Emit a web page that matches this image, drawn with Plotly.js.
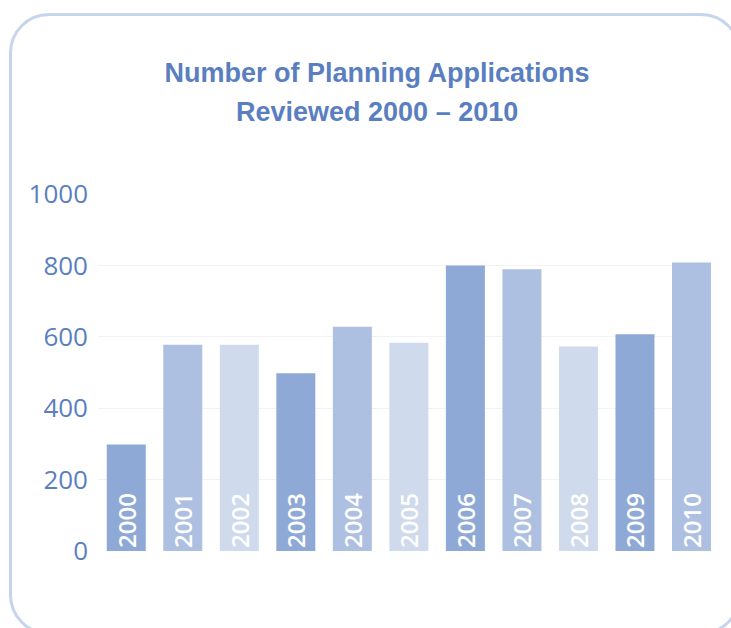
<!DOCTYPE html>
<html>
<head>
<meta charset="utf-8">
<script src="https://cdn.plot.ly/plotly-3.0.1.min.js"></script>
<style>
  html, body { margin: 0; padding: 0; background: #ffffff; }
  #wrap { position: relative; width: 731px; height: 628px; overflow: hidden; }
  #frame { position: absolute; left: 9px; top: 13px; width: 732px; height: 622px;
           border: 3px solid #c6d4ec; border-radius: 40px; box-sizing: border-box; }
  #chart { position: absolute; left: 0; top: 0; width: 731px; height: 628px; }
</style>
</head>
<body>
<div id="wrap">
  <div id="frame"></div>
  <div id="chart"></div>
</div>
<script>
const years = ['2000','2001','2002','2003','2004','2005','2006','2007','2008','2009','2010'];
const applications = [298, 578, 578, 498, 628, 583, 800, 789, 573, 607, 808];
const barColors = ['#8ea9d5','#adc0e1','#cfdaec','#8ea9d5','#adc0e1','#cfdaec','#8ea9d5','#adc0e1','#cfdaec','#8ea9d5','#adc0e1'];
const yTicks = [0, 200, 400, 600, 800, 1000];
const titleLine1 = 'Number of Planning Applications';
const titleLine2 = 'Reviewed 2000 \u2013 2010';

const blue = '#5a7fc1';

const trace = {
  type: 'bar',
  x: years,
  y: applications,
  marker: { color: barColors, line: { width: 0 } },
  width: 0.69,
  text: years,
  textposition: 'inside',
  insidetextanchor: 'start',
  textangle: -90,
  constraintext: 'none',
  insidetextfont: { family: 'Open Sans', size: 24, color: '#ffffff', weight: 600 },
  hoverinfo: 'none'
};

const layout = {
  width: 731,
  height: 628,
  paper_bgcolor: 'rgba(0,0,0,0)',
  plot_bgcolor: 'rgba(0,0,0,0)',
  margin: { l: 98, r: 20, t: 194, b: 77 },
  showlegend: false,
  title: {
    text: titleLine1,
    font: { family: 'Liberation Sans', size: 27, color: blue, weight: 700 },
    xref: 'paper', x: 0.455, xanchor: 'center',
    yref: 'container', y: 1 - 72.5 / 628, yanchor: 'middle'
  },
  annotations: [{
    text: titleLine2,
    font: { family: 'Liberation Sans', size: 27, color: blue, weight: 700 },
    xref: 'paper', x: 0.455, xanchor: 'center',
    yref: 'paper', y: (551 - 112.5) / 357, yanchor: 'middle',
    showarrow: false
  }],
  xaxis: {
    type: 'category',
    range: [-0.5, 10.345],
    showticklabels: false,
    showgrid: false,
    zeroline: false,
    showline: false,
    ticks: ''
  },
  yaxis: {
    range: [0, 1000],
    tickvals: yTicks,
    ticktext: yTicks.map(String),
    tickfont: { family: 'Open Sans', size: 26, color: blue },
    showgrid: true,
    gridcolor: '#f1f2f6',
    gridwidth: 1,
    zeroline: false,
    showline: false,
    ticks: '',
    ticklabelstandoff: 9,
    fixedrange: true
  },
  bargap: 0.31
};

Plotly.newPlot('chart', [trace], layout, { displayModeBar: false, staticPlot: true });
</script>
</body>
</html>
